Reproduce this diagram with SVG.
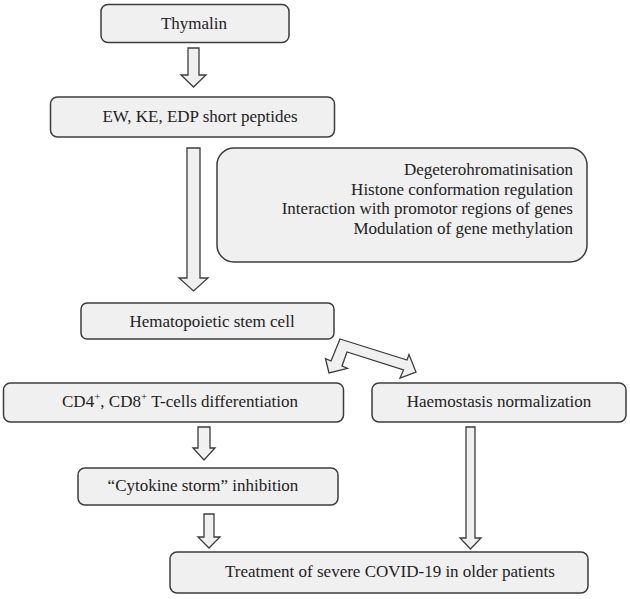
<svg xmlns="http://www.w3.org/2000/svg" width="630" height="599" viewBox="0 0 630 599">
<style>
.box{fill:#f0f0f0;stroke:#3c3c3c;stroke-width:1.5}
.arr{fill:#f0f0f0;stroke:#3c3c3c;stroke-width:1.3;stroke-linejoin:miter}
text{font-family:"Liberation Serif","Times New Roman",serif;font-size:17px;fill:#222}
.c{text-anchor:middle}
.r{text-anchor:end}
</style>
<rect width="630" height="599" fill="#ffffff"/>
<g id="connectors">
<polygon class="arr" points="188,48 199,48 199,75 206,75 193.5,87 181,75 188,75"/>
<polygon class="arr" points="187,148 200,148 200,278 208,278 193.5,291 179,278 187,278"/>
<polygon class="arr" points="340,339 407,360 409,354.5 416,372 400,378 403.5,370 347,352 342,366 347.5,368.3 329,373 325.5,358.7 331,361"/>
<polygon class="arr" points="198,427 210,427 210,448 215,448 204,460 193,448 198,448"/>
<polygon class="arr" points="466,427 475,427 475,538 481,538 470.5,549 460,538 466,538"/>
<polygon class="arr" points="204,514 214,514 214,537 220,537 209,548 198,537 204,537"/>
</g>
<g id="thymalin">
<rect class="box" x="101" y="4.5" width="188" height="38" rx="7"/>
<text class="c" x="194" y="29">Thymalin</text>
</g>
<g id="peptides">
<rect class="box" x="50.5" y="97" width="284" height="40" rx="7"/>
<text class="c" x="200" y="122">EW, KE, EDP short peptides</text>
</g>
<g id="mechanisms">
<rect class="box" x="217" y="148" width="370" height="114" rx="17"/>
<text class="r" x="573" y="175">Degeterohromatinisation</text>
<text class="r" x="573" y="194.7">Histone conformation regulation</text>
<text class="r" x="573" y="214.4">Interaction with promotor regions of genes</text>
<text class="r" x="573" y="234">Modulation of gene methylation</text>
</g>
<g id="hsc">
<rect class="box" x="81" y="303" width="253" height="36" rx="6"/>
<text class="c" x="212" y="327">Hematopoietic stem cell</text>
</g>
<g id="tcells">
<rect class="box" x="3.5" y="383" width="340" height="39" rx="7"/>
<text class="c" x="180" y="407">CD4<tspan dy="-7" font-size="11">+</tspan><tspan dy="7">, CD8</tspan><tspan dy="-7" font-size="11">+</tspan><tspan dy="7"> T-cells differentiation</tspan></text>
</g>
<g id="haemostasis">
<rect class="box" x="372" y="383" width="254" height="39" rx="7"/>
<text class="c" x="499" y="407">Haemostasis normalization</text>
</g>
<g id="cytokine">
<rect class="box" x="78" y="468" width="260" height="37" rx="7"/>
<text class="c" x="203" y="491">“Cytokine storm” inhibition</text>
</g>
<g id="treatment">
<rect class="box" x="170" y="552" width="418" height="41" rx="7"/>
<text class="c" x="390" y="577">Treatment of severe COVID-19 in older patients</text>
</g>
</svg>
